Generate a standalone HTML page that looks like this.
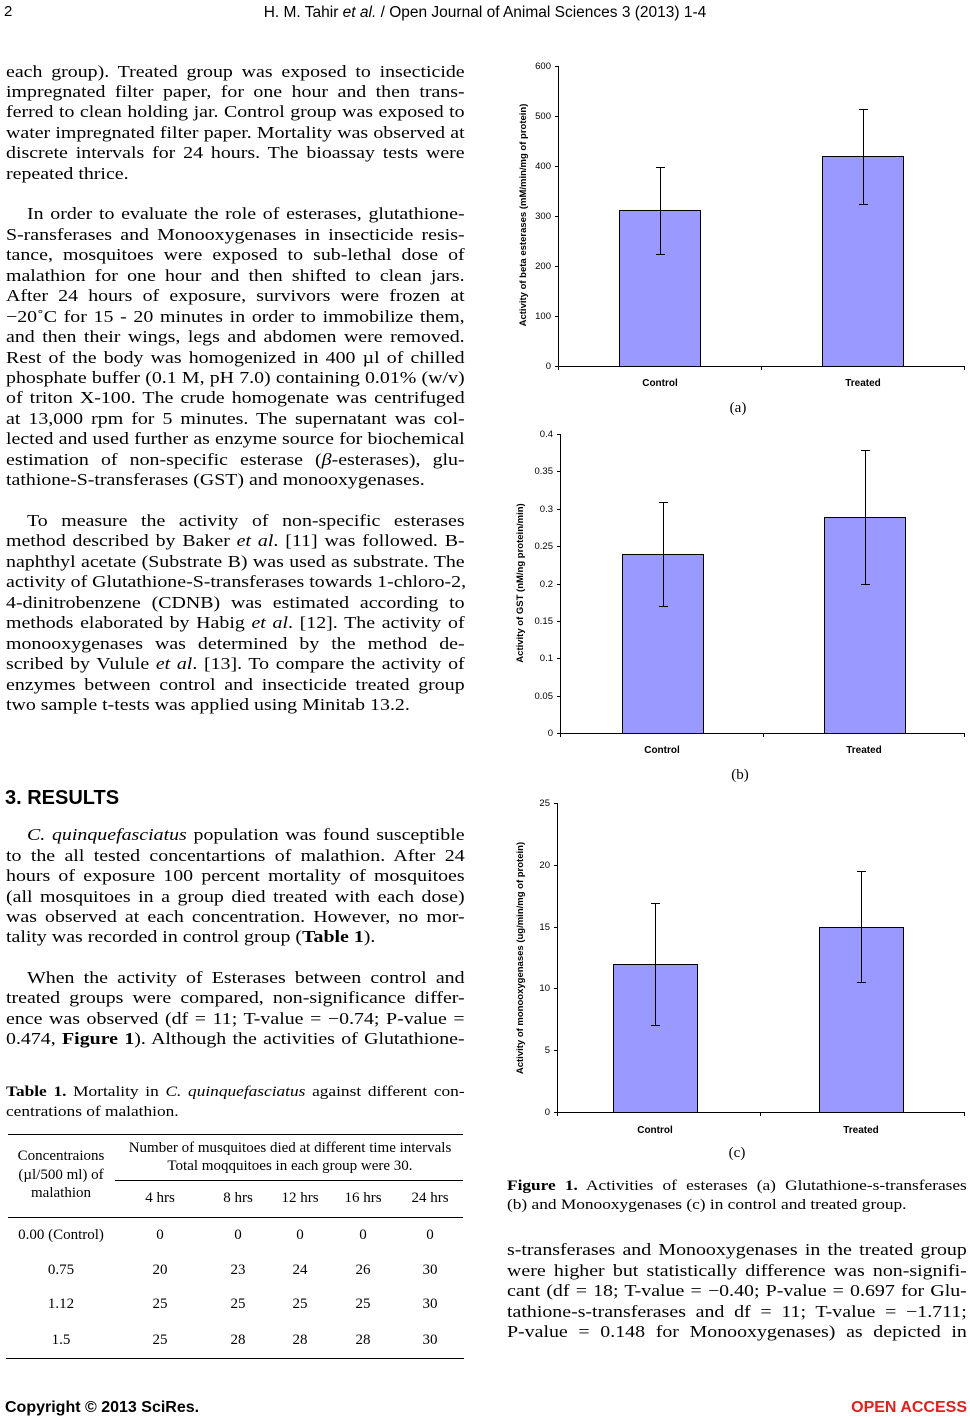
<!DOCTYPE html>
<html><head><meta charset="utf-8"><style>
body{margin:0;background:#fff;}
#p{position:relative;width:970px;height:1419px;overflow:hidden;font-family:"Liberation Serif",serif;color:#000;}
.l{position:absolute;left:6px;width:392px;font-size:17px;line-height:20px;white-space:nowrap;text-align:justify;text-align-last:justify;transform:scaleX(1.17);transform-origin:0 0;}
.r{left:507px;width:393px;}
.n{text-align-last:left;}
.i{left:27px;width:374px;}
.t{font-size:14.8px;}
.s{font-family:"Liberation Sans",sans-serif;}
.c{position:absolute;font-size:15px;line-height:18px;text-align:center;white-space:nowrap;}
svg text{font-family:"Liberation Sans",sans-serif;}
</style></head><body><div id="p">
<div class="s" style="position:absolute;left:4px;top:3px;font-size:15px;">2</div>
<div class="s" style="position:absolute;left:0;width:970px;top:4px;font-size:15.5px;text-align:center;">H. M. Tahir <i>et al.</i> / Open Journal of Animal Sciences 3 (2013) 1-4</div>

<div class="l" style="top:62px">each group). Treated group was exposed to insecticide</div>
<div class="l" style="top:82px">impregnated filter paper, for one hour and then trans-</div>
<div class="l" style="top:102px">ferred to clean holding jar. Control group was exposed to</div>
<div class="l" style="top:123px">water impregnated filter paper. Mortality was observed at</div>
<div class="l" style="top:143px">discrete intervals for 24 hours. The bioassay tests were</div>
<div class="l n" style="top:164px">repeated thrice.</div>
<div class="l i" style="top:204px">In order to evaluate the role of esterases, glutathione-</div>
<div class="l" style="top:225px">S-ransferases and Monooxygenases in insecticide resis-</div>
<div class="l" style="top:245px">tance, mosquitoes were exposed to sub-lethal dose of</div>
<div class="l" style="top:266px">malathion for one hour and then shifted to clean jars.</div>
<div class="l" style="top:286px">After 24 hours of exposure, survivors were frozen at</div>
<div class="l" style="top:307px">−20˚C for 15 - 20 minutes in order to immobilize them,</div>
<div class="l" style="top:327px">and then their wings, legs and abdomen were removed.</div>
<div class="l" style="top:348px">Rest of the body was homogenized in 400 µl of chilled</div>
<div class="l" style="top:368px">phosphate buffer (0.1 M, pH 7.0) containing 0.01% (w/v)</div>
<div class="l" style="top:388px">of triton X-100. The crude homogenate was centrifuged</div>
<div class="l" style="top:409px">at 13,000 rpm for 5 minutes. The supernatant was col-</div>
<div class="l" style="top:429px">lected and used further as enzyme source for biochemical</div>
<div class="l" style="top:450px">estimation of non-specific esterase (<i>β</i>-esterases), glu-</div>
<div class="l n" style="top:470px">tathione-S-transferases (GST) and monooxygenases.</div>
<div class="l i" style="top:511px">To measure the activity of non-specific esterases</div>
<div class="l" style="top:531px">method described by Baker <i>et al</i>. [11] was followed. B-</div>
<div class="l" style="top:552px">naphthyl acetate (Substrate B) was used as substrate. The</div>
<div class="l" style="top:572px">activity of Glutathione-S-transferases towards 1-chloro-2,</div>
<div class="l" style="top:593px">4-dinitrobenzene (CDNB) was estimated according to</div>
<div class="l" style="top:613px">methods elaborated by Habig <i>et al</i>. [12]. The activity of</div>
<div class="l" style="top:634px">monooxygenases was determined by the method de-</div>
<div class="l" style="top:654px">scribed by Vulule <i>et al</i>. [13]. To compare the activity of</div>
<div class="l" style="top:675px">enzymes between control and insecticide treated group</div>
<div class="l n" style="top:695px">two sample t-tests was applied using Minitab 13.2.</div>
<div class="s" style="position:absolute;left:5px;top:787px;font-size:20px;font-weight:bold;">3. RESULTS</div>
<div class="l i" style="top:825px"><i>C. quinquefasciatus</i> population was found susceptible</div>
<div class="l" style="top:846px">to the all tested concentartions of malathion. After 24</div>
<div class="l" style="top:866px">hours of exposure 100 percent mortality of mosquitoes</div>
<div class="l" style="top:887px">(all mosquitoes in a group died treated with each dose)</div>
<div class="l" style="top:907px">was observed at each concentration. However, no mor-</div>
<div class="l n" style="top:927px">tality was recorded in control group (<b>Table 1</b>).</div>
<div class="l i" style="top:968px">When the activity of Esterases between control and</div>
<div class="l" style="top:988px">treated groups were compared, non-significance differ-</div>
<div class="l" style="top:1009px">ence was observed (df = 11; T-value = −0.74; P-value =</div>
<div class="l" style="top:1029px">0.474, <b>Figure 1</b>). Although the activities of Glutathione-</div>
<div class="l t" style="top:1082px;"><b>Table 1.</b> Mortality in <i>C. quinquefasciatus</i> against different con-</div>
<div class="l t n" style="top:1102px;">centrations of malathion.</div>

<div style="position:absolute;left:8px;width:455px;top:1134px;border-top:1px solid #000"></div>
<div style="position:absolute;left:115px;width:348px;top:1180px;border-top:1px solid #000"></div>
<div style="position:absolute;left:8px;width:455px;top:1217px;border-top:1px solid #000"></div>
<div style="position:absolute;left:6px;width:458px;top:1358px;border-top:1px solid #000"></div>
<div class="c" style="left:0;width:122px;top:1147px;line-height:18.5px">Concentraions<br>(µl/500 ml) of<br>malathion</div>
<div class="c" style="left:117px;width:346px;top:1139px;line-height:18px">Number of musquitoes died at different time intervals<br>Total moqquitoes in each group were 30.</div>
<div class="c" style="left:120px;width:80px;top:1189px">4 hrs</div>
<div class="c" style="left:198px;width:80px;top:1189px">8 hrs</div>
<div class="c" style="left:260px;width:80px;top:1189px">12 hrs</div>
<div class="c" style="left:323px;width:80px;top:1189px">16 hrs</div>
<div class="c" style="left:390px;width:80px;top:1189px">24 hrs</div>

<div class="c" style="left:0;width:122px;top:1226px">0.00 (Control)</div>
<div class="c" style="left:120px;width:80px;top:1226px">0</div><div class="c" style="left:198px;width:80px;top:1226px">0</div><div class="c" style="left:260px;width:80px;top:1226px">0</div><div class="c" style="left:323px;width:80px;top:1226px">0</div><div class="c" style="left:390px;width:80px;top:1226px">0</div>
<div class="c" style="left:0;width:122px;top:1261px">0.75</div>
<div class="c" style="left:120px;width:80px;top:1261px">20</div><div class="c" style="left:198px;width:80px;top:1261px">23</div><div class="c" style="left:260px;width:80px;top:1261px">24</div><div class="c" style="left:323px;width:80px;top:1261px">26</div><div class="c" style="left:390px;width:80px;top:1261px">30</div>
<div class="c" style="left:0;width:122px;top:1295px">1.12</div>
<div class="c" style="left:120px;width:80px;top:1295px">25</div><div class="c" style="left:198px;width:80px;top:1295px">25</div><div class="c" style="left:260px;width:80px;top:1295px">25</div><div class="c" style="left:323px;width:80px;top:1295px">25</div><div class="c" style="left:390px;width:80px;top:1295px">30</div>
<div class="c" style="left:0;width:122px;top:1331px">1.5</div>
<div class="c" style="left:120px;width:80px;top:1331px">25</div><div class="c" style="left:198px;width:80px;top:1331px">28</div><div class="c" style="left:260px;width:80px;top:1331px">28</div><div class="c" style="left:323px;width:80px;top:1331px">28</div><div class="c" style="left:390px;width:80px;top:1331px">30</div>

<svg style="position:absolute;left:0;top:0" width="970" height="1419">
<g stroke="#000" stroke-width="1" fill="none">
<line x1="558.5" y1="66" x2="558.5" y2="366"/><line x1="558" y1="366.5" x2="965" y2="366.5"/>
<path d="M555 66.5h4M555 116.5h4M555 166.5h4M555 216.5h4M555 266.5h4M555 316.5h4M555 366.5h4M558.5 366v4M761.5 366v4M964.5 366v4"/>
<rect x="619.5" y="210.5" width="81" height="156" fill="#9999ff"/>
<rect x="822.5" y="156.5" width="81" height="210" fill="#9999ff"/>
<path d="M660.5 167v88M656 167.5h9M656 254.5h9M863.5 109v96M859 109.5h9M859 204.5h9"/>
<line x1="560.5" y1="434" x2="560.5" y2="733"/><line x1="560" y1="733.5" x2="965" y2="733.5"/>
<path d="M557 434.5h4M557 471.5h4M557 509.5h4M557 546.5h4M557 584.5h4M557 621.5h4M557 658.5h4M557 696.5h4M557 733.5h4M560.5 733v4M763.5 733v4M964.5 733v4"/>
<rect x="622.5" y="554.5" width="81" height="179" fill="#9999ff"/>
<rect x="824.5" y="517.5" width="81" height="216" fill="#9999ff"/>
<path d="M663.5 502v104M659 502.5h9M659 606.5h9M865.5 450v134M861 450.5h9M861 584.5h9"/>
<line x1="557.5" y1="803" x2="557.5" y2="1112"/><line x1="557" y1="1112.5" x2="965" y2="1112.5"/>
<path d="M554 803.5h4M554 865.5h4M554 927.5h4M554 988.5h4M554 1050.5h4M554 1112.5h4M557.5 1112v4M760.5 1112v4M964.5 1112v4"/>
<rect x="613.5" y="964.5" width="84" height="148" fill="#9999ff"/>
<rect x="819.5" y="927.5" width="84" height="185" fill="#9999ff"/>
<path d="M655.5 903v123M651 903.5h9M651 1025.5h9M861.5 871v112M857 871.5h9M857 982.5h9"/>
</g>
<g font-size="9.5" text-anchor="end">
<text x="551" y="69">600</text><text x="551" y="119">500</text><text x="551" y="169">400</text><text x="551" y="219">300</text><text x="551" y="269">200</text><text x="551" y="319">100</text><text x="551" y="369">0</text>
<text x="553" y="437">0.4</text><text x="553" y="474">0.35</text><text x="553" y="512">0.3</text><text x="553" y="549">0.25</text><text x="553" y="587">0.2</text><text x="553" y="624">0.15</text><text x="553" y="661">0.1</text><text x="553" y="699">0.05</text><text x="553" y="736">0</text>
<text x="550" y="806">25</text><text x="550" y="868">20</text><text x="550" y="930">15</text><text x="550" y="991">10</text><text x="550" y="1053">5</text><text x="550" y="1115">0</text>
</g>
<g font-size="10" font-weight="bold" text-anchor="middle">
<text x="660" y="386">Control</text><text x="863" y="386">Treated</text>
<text x="662" y="753">Control</text><text x="864" y="753">Treated</text>
<text x="655" y="1133">Control</text><text x="861" y="1133">Treated</text>
<text transform="translate(526,215) rotate(-90)" font-size="9.5">Activity of beta esterases (mM/min/mg of protein)</text>
<text transform="translate(523,583) rotate(-90)" font-size="9.5">Activity of GST (nM/ng protein/min)</text>
<text transform="translate(523,958) rotate(-90)" font-size="9.5">Activity of monooxygenases (ug/min/mg of protein)</text>
</g>
<g font-size="15" text-anchor="middle">
<text x="738" y="412" style="font-family:'Liberation Serif',serif">(a)</text>
<text x="740" y="779" style="font-family:'Liberation Serif',serif">(b)</text>
<text x="737" y="1157" style="font-family:'Liberation Serif',serif">(c)</text>
</g>
</svg>

<div class="l r t" style="top:1176px;"><b>Figure 1.</b> Activities of esterases (a) Glutathione-s-transferases</div>
<div class="l r t n" style="top:1195px;">(b) and Monooxygenases (c) in control and treated group.</div>
<div class="l r" style="top:1240px">s-transferases and Monooxygenases in the treated group</div>
<div class="l r" style="top:1261px">were higher but statistically difference was non-signifi-</div>
<div class="l r" style="top:1281px">cant (df = 18; T-value = −0.40; P-value = 0.697 for Glu-</div>
<div class="l r" style="top:1302px">tathione-s-transferases and df = 11; T-value = −1.711;</div>
<div class="l r" style="top:1322px">P-value = 0.148 for Monooxygenases) as depicted in</div>

<div class="s" style="position:absolute;left:5px;top:1399px;font-size:16px;font-weight:bold;">Copyright © 2013 SciRes.</div>
<div class="s" style="position:absolute;right:3px;top:1399px;font-size:16px;font-weight:bold;color:#e0201b;">OPEN ACCESS</div>
</div></body></html>
